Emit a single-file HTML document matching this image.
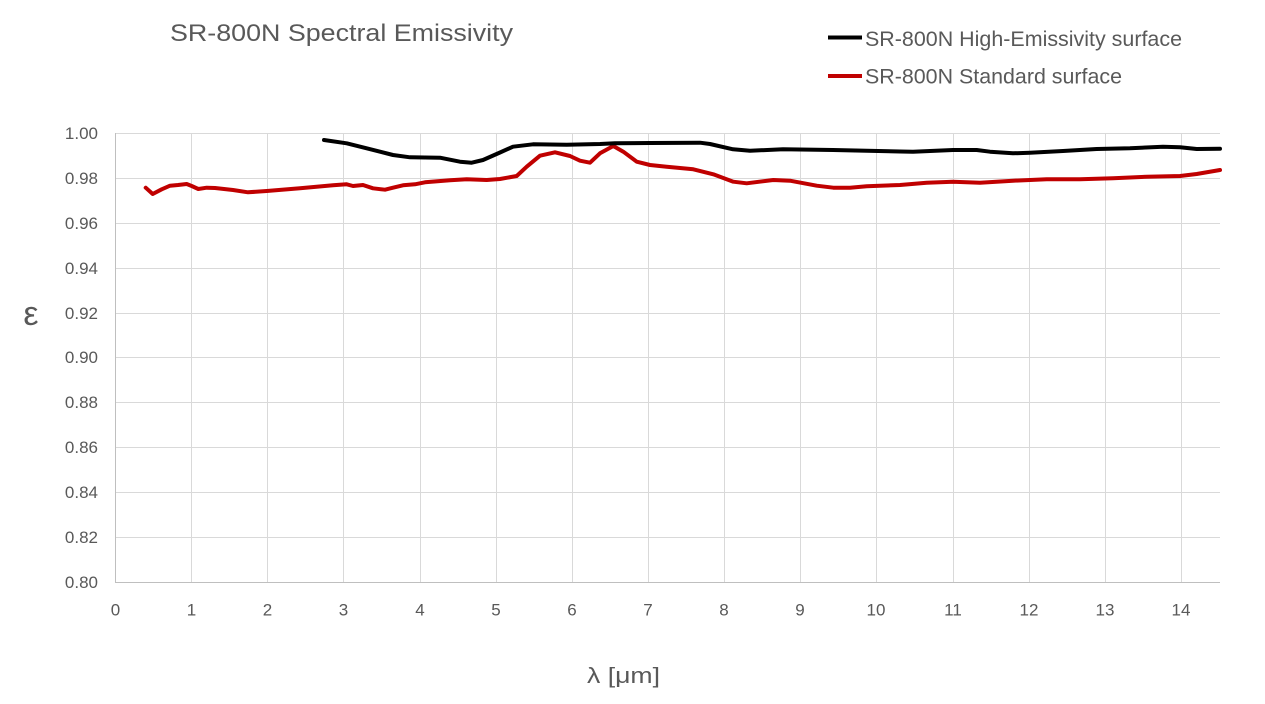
<!DOCTYPE html>
<html>
<head>
<meta charset="utf-8">
<style>
  html,body{margin:0;padding:0;background:#fff;}
  svg{display:block;}
  text{font-family:"Liberation Sans",sans-serif;fill:#595959;}
</style>
</head>
<body>
<svg width="1265" height="704" viewBox="0 0 1265 704" xmlns="http://www.w3.org/2000/svg">
  <rect width="1265" height="704" fill="#fff"/>
  <!-- title -->
  <text x="170" y="41" font-size="24" textLength="343" lengthAdjust="spacingAndGlyphs">SR-800N Spectral Emissivity</text>
  <!-- legend -->
  <line x1="828" y1="37.5" x2="862" y2="37.5" stroke="#000" stroke-width="4"/>
  <text x="865" y="46" font-size="21" textLength="317" lengthAdjust="spacingAndGlyphs">SR-800N High-Emissivity surface</text>
  <line x1="828" y1="76" x2="862" y2="76" stroke="#c00000" stroke-width="4"/>
  <text x="865" y="83.5" font-size="21" textLength="257" lengthAdjust="spacingAndGlyphs">SR-800N Standard surface</text>

  <!-- gridlines horizontal -->
  <g stroke="#d9d9d9" stroke-width="1">
    <line x1="115" y1="133.5" x2="1220" y2="133.5"/>
    <line x1="115" y1="178.5" x2="1220" y2="178.5"/>
    <line x1="115" y1="223.5" x2="1220" y2="223.5"/>
    <line x1="115" y1="268.5" x2="1220" y2="268.5"/>
    <line x1="115" y1="313.5" x2="1220" y2="313.5"/>
    <line x1="115" y1="357.5" x2="1220" y2="357.5"/>
    <line x1="115" y1="402.5" x2="1220" y2="402.5"/>
    <line x1="115" y1="447.5" x2="1220" y2="447.5"/>
    <line x1="115" y1="492.5" x2="1220" y2="492.5"/>
    <line x1="115" y1="537.5" x2="1220" y2="537.5"/>
    <!-- vertical -->
    <line x1="191.5" y1="133" x2="191.5" y2="582"/>
    <line x1="267.5" y1="133" x2="267.5" y2="582"/>
    <line x1="343.5" y1="133" x2="343.5" y2="582"/>
    <line x1="420.5" y1="133" x2="420.5" y2="582"/>
    <line x1="496.5" y1="133" x2="496.5" y2="582"/>
    <line x1="572.5" y1="133" x2="572.5" y2="582"/>
    <line x1="648.5" y1="133" x2="648.5" y2="582"/>
    <line x1="724.5" y1="133" x2="724.5" y2="582"/>
    <line x1="800.5" y1="133" x2="800.5" y2="582"/>
    <line x1="876.5" y1="133" x2="876.5" y2="582"/>
    <line x1="953.5" y1="133" x2="953.5" y2="582"/>
    <line x1="1029.5" y1="133" x2="1029.5" y2="582"/>
    <line x1="1105.5" y1="133" x2="1105.5" y2="582"/>
    <line x1="1181.5" y1="133" x2="1181.5" y2="582"/>
  </g>
  <!-- axes -->
  <g stroke="#bfbfbf" stroke-width="1">
    <line x1="115.5" y1="133" x2="115.5" y2="582"/>
    <line x1="115" y1="582.5" x2="1220" y2="582.5"/>
  </g>

  <!-- y tick labels -->
  <g font-size="17" text-anchor="end">
    <text x="98" y="139">1.00</text>
    <text x="98" y="184">0.98</text>
    <text x="98" y="229">0.96</text>
    <text x="98" y="274">0.94</text>
    <text x="98" y="319">0.92</text>
    <text x="98" y="363">0.90</text>
    <text x="98" y="408">0.88</text>
    <text x="98" y="453">0.86</text>
    <text x="98" y="498">0.84</text>
    <text x="98" y="543">0.82</text>
    <text x="98" y="588">0.80</text>
  </g>
  <!-- x tick labels -->
  <g font-size="17" text-anchor="middle">
    <text x="115.5" y="615.5">0</text>
    <text x="191.5" y="615.5">1</text>
    <text x="267.5" y="615.5">2</text>
    <text x="343.5" y="615.5">3</text>
    <text x="420" y="615.5">4</text>
    <text x="496" y="615.5">5</text>
    <text x="572" y="615.5">6</text>
    <text x="648" y="615.5">7</text>
    <text x="724" y="615.5">8</text>
    <text x="800" y="615.5">9</text>
    <text x="876" y="615.5">10</text>
    <text x="953" y="615.5">11</text>
    <text x="1029" y="615.5">12</text>
    <text x="1105" y="615.5">13</text>
    <text x="1181" y="615.5">14</text>
  </g>

  <!-- axis titles -->
  <text x="31" y="325" font-size="34" text-anchor="middle">ε</text>
  <text x="587" y="683" font-size="22" textLength="73" lengthAdjust="spacingAndGlyphs">λ [μm]</text>

  <!-- series: standard (red) -->
  <polyline fill="none" stroke="#c00000" stroke-width="4" stroke-linejoin="round" stroke-linecap="round"
    points="145.7,187.7 152.7,194 161.7,189.3 170,185.7 178,185 186.7,184 191.7,186 198.3,189 206.7,187.7 215,188 233,190 248,192.3 266.7,191 300,188.3 333,185.3 346.7,184.3 353,186 363,185 373,188.3 385,189.7 393,187.7 403,185.3 415,184.3 425,182.3 450,180.3 466.7,179.3 486.7,180 500,179 516.7,176 526.7,166.7 540,155.7 555,152.3 570,156 580,160.7 590,162.7 600,153.3 613.3,146 623.3,151.7 636.7,161.7 650,165 666.7,166.7 693.3,169.3 713.3,174.3 733.3,181.7 746.7,183.3 773.3,180 790,180.7 816.7,185.7 833.3,187.7 850,187.7 866.7,186.3 900,185 926.7,182.7 953,181.7 980,182.7 1013,180.7 1046.7,179.3 1080,179.3 1113,178.3 1146.7,176.7 1180,176 1196.7,174 1220,170"/>

  <!-- series: high emissivity (black) -->
  <polyline fill="none" stroke="#000" stroke-width="4" stroke-linejoin="round" stroke-linecap="round"
    points="324,140 346.7,143.3 366.7,148.3 393,155 410,157.3 440,157.7 460,161.7 471.7,162.7 483,160 500,152.5 513,146.7 533,144.3 566.7,144.7 600,144 615,143.3 650,143 700,142.7 710,144 733,149.3 750,150.7 783,149.3 833,150 866.7,150.7 900,151.5 913,151.7 953,150 976.7,150 990,151.7 1013,153.3 1030,152.7 1063,151 1096.7,149 1130,148.3 1163,146.7 1180,147.3 1196.7,149 1220,148.7"/>
</svg>
</body>
</html>
